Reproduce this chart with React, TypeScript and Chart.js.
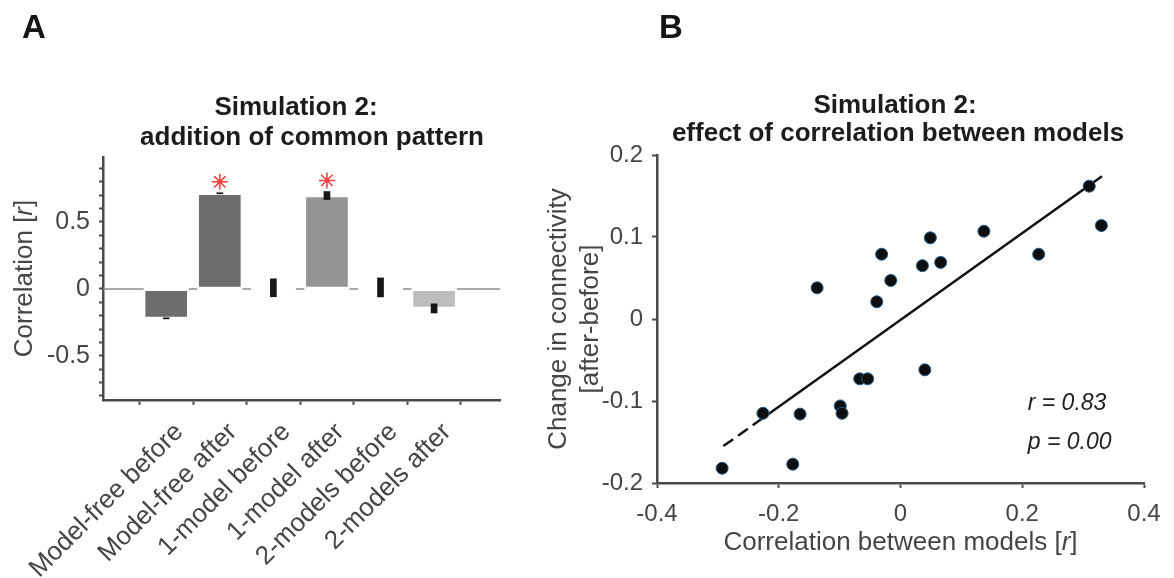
import React, { useEffect, useRef } from "react";
import { Chart, registerables } from "chart.js";

Chart.register(...registerables);

// ---------- Panel A data ----------
const conditions = [
  "Model-free before",
  "Model-free after",
  "1-model before",
  "1-model after",
  "2-models before",
  "2-models after",
];
const meanCorr = [-0.22, 0.714, 0.008, 0.697, 0.011, -0.146];
const semCorr = [0.004, 0.004, 0.067, 0.03, 0.071, 0.034];
const barColors = ["#6d6d6f", "#6d6d6f", "#ffffff", "#949497", "#ffffff", "#bdbdbf"];
const sigPositions = [2, 4];
const sigMarkY = [0.8, 0.81];
const yLabeledTicksA = [-0.5, 0, 0.5];

// ---------- Panel B data ----------
const corrBetweenModels = [
  -0.293, -0.226, -0.177, -0.165, -0.137, -0.099, -0.096, -0.067, -0.054, -0.039,
  -0.031, -0.016, 0.036, 0.04, 0.049, 0.066, 0.137, 0.227, 0.31, 0.33,
];
const connChange = [
  -0.182, -0.115, -0.177, -0.116, 0.038, -0.106, -0.115, -0.073, -0.073, 0.021,
  0.079, 0.047, 0.065, -0.062, 0.099, 0.069, 0.107, 0.079, 0.162, 0.114,
];
const fitDashedX = [-0.291, -0.215];
const fitDashedY = [-0.155, -0.115];
const fitSolidX = [-0.215, 0.331];
const fitSolidY = [-0.115, 0.174];
const statLabels = ["r = 0.83", "p = 0.00"];
const statAnchorX = 0.209;
const statAnchorY = [-0.111, -0.159];

const FONT = "'Liberation Sans', Arial, Helvetica, sans-serif";
const TEXT = "#454545";
const AXIS = "#4a4a4a";

type Part = { t: string; italic?: boolean };

function drawParts(
  ctx: CanvasRenderingContext2D,
  parts: Part[],
  x: number,
  y: number,
  size: number,
  color: string,
  align: "center" | "left" = "center",
  weight = "normal"
) {
  const fonts = parts.map((p) => `${p.italic ? "italic " : ""}${weight} ${size}px ${FONT}`);
  let total = 0;
  const widths = parts.map((p, i) => {
    ctx.font = fonts[i];
    const w = ctx.measureText(p.t).width;
    total += w;
    return w;
  });
  let cx = align === "center" ? x - total / 2 : x;
  ctx.fillStyle = color;
  ctx.textAlign = "left";
  ctx.textBaseline = "alphabetic";
  parts.forEach((p, i) => {
    ctx.font = fonts[i];
    ctx.fillText(p.t, cx, y);
    cx += widths[i];
  });
}

function fmt(v: number) {
  const r = Math.round(v * 10) / 10;
  return r === 0 ? "0" : String(r);
}

const panelAPlugin = {
  id: "panelA",
  beforeDatasetsDraw(chart: any) {
    const { ctx, chartArea, scales } = chart;
    const y0 = scales.y.getPixelForValue(0);
    ctx.save();
    ctx.strokeStyle = "#8c8c8c";
    ctx.lineWidth = 1.5;
    ctx.beginPath();
    ctx.moveTo(chartArea.left, y0);
    ctx.lineTo(chartArea.right, y0);
    ctx.stroke();
    const meta = chart.getDatasetMeta(0);
    ctx.fillStyle = "#ffffff";
    meta.data.forEach((el: any) => {
      ctx.fillRect(el.x - el.width / 2, y0 - 2, el.width, 4);
    });
    ctx.restore();
  },
  afterDraw(chart: any) {
    const { ctx, chartArea, scales } = chart;
    ctx.save();
    // rotated category labels
    conditions.forEach((c, i) => {
      const px = scales.x.getPixelForValue(i + 1);
      ctx.save();
      ctx.translate(px + 13, chartArea.bottom + 28);
      ctx.rotate(-Math.PI / 4);
      ctx.font = `26px ${FONT}`;
      ctx.fillStyle = TEXT;
      ctx.textAlign = "right";
      ctx.textBaseline = "middle";
      ctx.fillText(c, 0, 0);
      ctx.restore();
    });
    drawParts(ctx, [{ t: "A" }], 22, 38, 33, "#151515", "left", "bold");
    drawParts(ctx, [{ t: "Simulation 2:" }], 296, 115, 26, "#1c1c1c", "center", "bold");
    drawParts(ctx, [{ t: "addition of common pattern" }], 312, 145, 26, "#1c1c1c", "center", "bold");
    ctx.translate(32, (chartArea.top + chartArea.bottom) / 2);
    ctx.rotate(-Math.PI / 2);
    drawParts(ctx, [{ t: "Correlation [" }, { t: "r", italic: true }, { t: "]" }], 0, 0, 26, TEXT);
    ctx.restore();
  },
};

const panelBPlugin = {
  id: "panelB",
  afterDraw(chart: any) {
    const { ctx, chartArea, scales } = chart;
    const cy = (chartArea.top + chartArea.bottom) / 2;
    const cx = (chartArea.left + chartArea.right) / 2;
    ctx.save();
    drawParts(ctx, [{ t: "B" }], 139, 38, 33, "#151515", "left", "bold");
    drawParts(ctx, [{ t: "Simulation 2:" }], 375, 113, 26, "#1c1c1c", "center", "bold");
    drawParts(ctx, [{ t: "effect of correlation between models" }], 378, 141, 26, "#1c1c1c", "center", "bold");
    drawParts(ctx, [{ t: "Correlation between models [" }, { t: "r", italic: true }, { t: "]" }], cx, 550, 26, TEXT);
    const sx = scales.x.getPixelForValue(statAnchorX);
    statLabels.forEach((s, i) => {
      drawParts(ctx, [{ t: s, italic: true }], sx, scales.y.getPixelForValue(statAnchorY[i]), 23, "#222222", "left");
    });
    ctx.save();
    ctx.translate(46, cy);
    ctx.rotate(-Math.PI / 2);
    drawParts(ctx, [{ t: "Change in connectivity" }], 0, 0, 26, TEXT);
    ctx.restore();
    ctx.save();
    ctx.translate(78, cy);
    ctx.rotate(-Math.PI / 2);
    drawParts(ctx, [{ t: "[after-before]" }], 0, 0, 26, TEXT);
    ctx.restore();
    ctx.restore();
  },
};

function PanelA() {
  const ref = useRef<HTMLCanvasElement>(null);
  useEffect(() => {
    if (!ref.current) return;
    const chart = new Chart(ref.current, {
      type: "bar",
      data: {
        datasets: [
          {
            type: "bar",
            data: conditions.map((_, i) => ({ x: i + 1, y: meanCorr[i] })) as any,
            backgroundColor: barColors,
            borderColor: "#ffffff",
            borderWidth: 2,
            borderSkipped: false,
            barThickness: 45,
            grouped: false,
            order: 2,
          } as any,
          {
            type: "bar",
            data: conditions.map((_, i) => ({ x: i + 1, y: [meanCorr[i] - semCorr[i], meanCorr[i] + semCorr[i]] })) as any,
            backgroundColor: "#161616",
            borderWidth: 0,
            barThickness: 6,
            grouped: false,
            order: 1,
          } as any,
          {
            type: "scatter",
            data: sigPositions.map((p, i) => ({ x: p, y: sigMarkY[i] })),
            pointStyle: "star",
            pointRadius: 8,
            borderColor: "#ff3b3b",
            backgroundColor: "#ff3b3b",
            borderWidth: 1.5,
            order: 0,
          } as any,
        ],
      },
      options: {
        responsive: false,
        animation: false,
        layout: { padding: { left: 0, right: 20, top: 157, bottom: 0 } },
        plugins: { legend: { display: false }, tooltip: { enabled: false } },
        scales: {
          x: {
            type: "linear",
            min: -0.18,
            max: 7.23,
            offset: false,
            afterFit: (s: any) => {
              s.height = 178;
            },
            afterBuildTicks: (s: any) => {
              s.ticks = conditions.map((_, i) => ({ value: i + 1 }));
            },
            ticks: {
              display: false,
              autoSkip: false,
            },
            grid: { drawOnChartArea: false, drawTicks: true, tickLength: 5, tickWidth: 2, tickColor: AXIS },
            border: { display: true, color: AXIS, width: 2.5 },
          },
          y: {
            type: "linear",
            min: -0.83,
            max: 0.985,
            afterFit: (s: any) => {
              s.width = 103;
            },
            ticks: {
              stepSize: 0.1,
              includeBounds: false,
              autoSkip: false,
              padding: 9,
              color: TEXT,
              font: { family: FONT, size: 25 },
              callback: (v: any) => {
                const r = Math.round(v * 10) / 10;
                return yLabeledTicksA.includes(r) ? fmt(r) : "";
              },
            },
            grid: { drawOnChartArea: false, drawTicks: true, tickLength: 4, tickWidth: 2, tickColor: AXIS },
            border: { display: true, color: AXIS, width: 2.5 },
          },
        },
      } as any,
      plugins: [panelAPlugin],
    });
    return () => chart.destroy();
  }, []);
  return (
    <canvas
      ref={ref}
      width={520}
      height={578}
      style={{ position: "absolute", left: 0, top: 0, width: 520, height: 578 }}
    />
  );
}

function PanelB() {
  const ref = useRef<HTMLCanvasElement>(null);
  useEffect(() => {
    if (!ref.current) return;
    const lineStyle = {
      type: "line",
      showLine: true,
      pointRadius: 0,
      borderColor: "#111111",
      borderWidth: 2.5,
      fill: false,
      order: 1,
    };
    const chart = new Chart(ref.current, {
      type: "scatter",
      data: {
        datasets: [
          {
            type: "scatter",
            data: corrBetweenModels.map((x, i) => ({ x, y: connChange[i] })),
            pointRadius: 6,
            pointBackgroundColor: "#0e0e0e",
            pointBorderColor: "#1d5a8c",
            pointBorderWidth: 1,
            order: 0,
          } as any,
          {
            ...lineStyle,
            data: fitDashedX.map((x, i) => ({ x, y: fitDashedY[i] })),
            borderDash: [12, 6],
          } as any,
          {
            ...lineStyle,
            data: fitSolidX.map((x, i) => ({ x, y: fitSolidY[i] })),
          } as any,
        ],
      },
      options: {
        responsive: false,
        animation: false,
        layout: { padding: { left: 0, right: 30, top: 155, bottom: 0 } },
        plugins: { legend: { display: false }, tooltip: { enabled: false } },
        scales: {
          x: {
            type: "linear",
            min: -0.4,
            max: 0.4,
            afterFit: (s: any) => {
              s.height = 95;
            },
            ticks: {
              stepSize: 0.2,
              padding: 12,
              color: TEXT,
              font: { family: FONT, size: 24 },
              callback: (v: any) => fmt(v),
            },
            grid: { drawOnChartArea: false, drawTicks: true, tickLength: 5, tickWidth: 2, tickColor: AXIS },
            border: { display: true, color: AXIS, width: 2.5 },
          },
          y: {
            type: "linear",
            min: -0.2,
            max: 0.2,
            afterFit: (s: any) => {
              s.width = 137;
            },
            ticks: {
              stepSize: 0.1,
              padding: 9,
              color: TEXT,
              font: { family: FONT, size: 24 },
              callback: (v: any) => fmt(v),
            },
            grid: { drawOnChartArea: false, drawTicks: true, tickLength: 5, tickWidth: 2, tickColor: AXIS },
            border: { display: true, color: AXIS, width: 2.5 },
          },
        },
      } as any,
      plugins: [panelBPlugin],
    });
    return () => chart.destroy();
  }, []);
  return (
    <canvas
      ref={ref}
      width={654}
      height={578}
      style={{ position: "absolute", left: 520, top: 0, width: 654, height: 578 }}
    />
  );
}

export default function App() {
  return (
    <div
      style={{
        position: "fixed",
        left: 0,
        top: 0,
        width: 1174,
        height: 578,
        background: "#ffffff",
        overflow: "hidden",
      }}
    >
      <PanelA />
      <PanelB />
    </div>
  );
}
